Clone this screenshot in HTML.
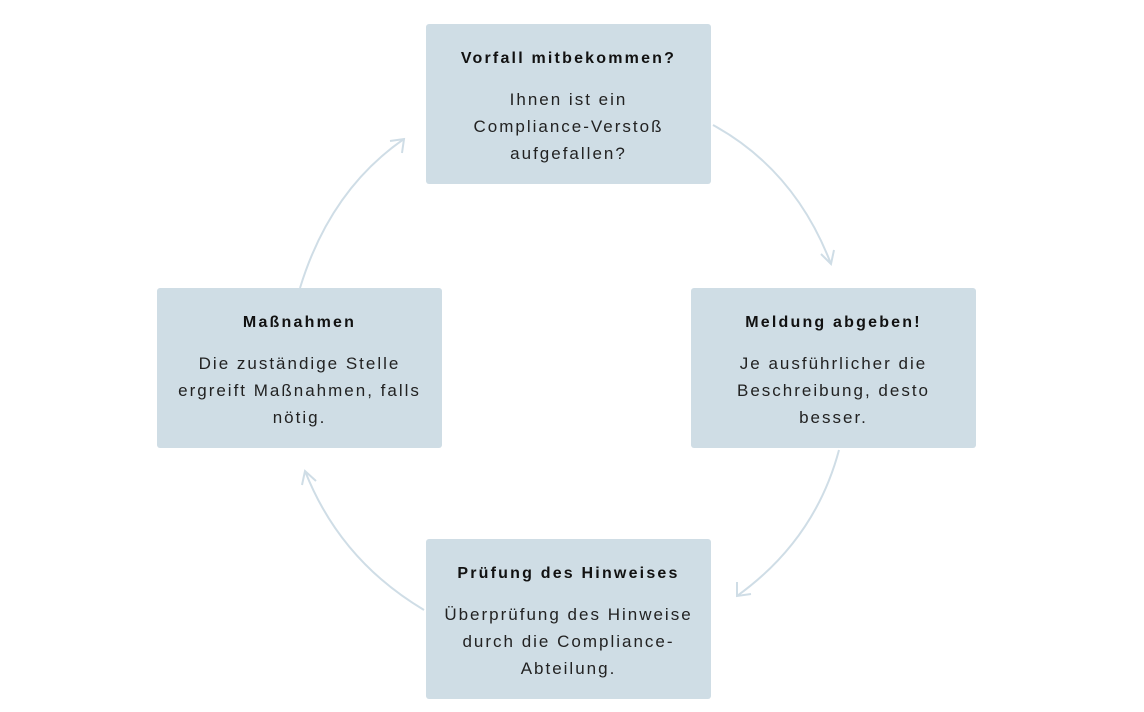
<!DOCTYPE html>
<html><head><meta charset="utf-8"><style>
body{margin:0;width:1144px;height:712px;background:#fff;position:relative;overflow:hidden;font-family:"Liberation Sans",sans-serif;color:#111}
.b{position:absolute;width:285px;height:160px;background:#cfdde5;border-radius:3px;text-align:center}
.t{position:absolute;left:0;right:0;top:26px;font-weight:bold;font-size:16px;letter-spacing:2.2px}
.d{position:absolute;left:0;right:0;top:62px;font-size:17px;line-height:27px;letter-spacing:2px;color:#222;white-space:nowrap}
svg{position:absolute;left:0;top:0}
</style></head><body>
<svg width="1144" height="712" fill="none" stroke="#cfdde6" stroke-width="2">
<path d="M713 125 Q795 170 831 264"/><path d="M821 254 L831 264 L834 250"/>
<path d="M839 450 Q815 540 737 596"/><path d="M737 582 L737 596 L751 594"/>
<path d="M424 610 Q340 560 305 471"/><path d="M302 485 L305 471 L316 481"/>
<path d="M300 288 Q330 190 404 139"/><path d="M390 141 L404 139 L402 153"/>
</svg>
<div class="b" style="left:426px;top:24px"><div class="t">Vorfall mitbekommen?</div><div class="d">Ihnen ist ein<br>Compliance-Verstoß<br>aufgefallen?</div></div>
<div class="b" style="left:691px;top:288px"><div class="t">Meldung abgeben!</div><div class="d">Je ausführlicher die<br>Beschreibung, desto<br>besser.</div></div>
<div class="b" style="left:157px;top:288px"><div class="t">Maßnahmen</div><div class="d">Die zuständige Stelle<br>ergreift Maßnahmen, falls<br>nötig.</div></div>
<div class="b" style="left:426px;top:539px"><div class="t">Prüfung des Hinweises</div><div class="d">Überprüfung des Hinweise<br>durch die Compliance-<br>Abteilung.</div></div>
</body></html>
